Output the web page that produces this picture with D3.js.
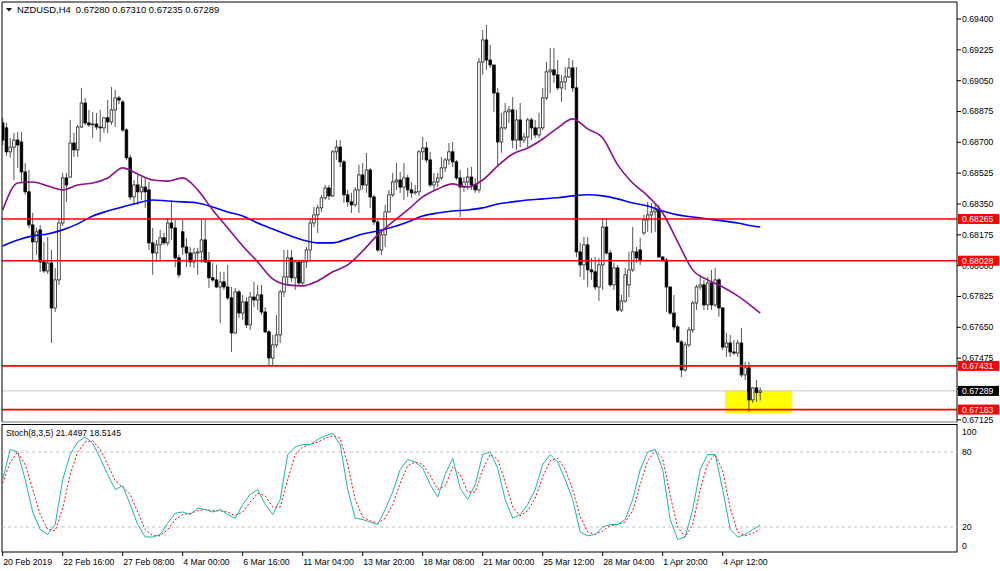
<!DOCTYPE html>
<html><head><meta charset="utf-8">
<script src="https://cdn.jsdelivr.net/npm/d3@7"></script>
<style>body{margin:0;background:#fff}svg{display:block}text{font-family:"Liberation Sans",Arial,sans-serif;font-size:8.7px;white-space:pre}</style>
</head><body><svg id="c" width="1000" height="571"></svg>
<script>
const title = "NZDUSD,H4  0.67280 0.67310 0.67235 0.67289";
const stochTitle = "Stoch(8,3,5) 21.4497 18.5145";
const opens = [0.68810,0.68782,0.68646,0.68673,0.68713,0.68702,0.68532,0.68419,0.68231,0.68135,0.68203,0.68021,0.67970,0.68015,0.67760,0.67919,0.68242,0.68498,0.68503,0.68696,0.68657,0.68787,0.68923,0.68810,0.68799,0.68804,0.68787,0.68782,0.68839,0.68816,0.68884,0.68952,0.68929,0.68770,0.68612,0.68390,0.68458,0.68419,0.68446,0.68430,0.68129,0.68072,0.68118,0.68158,0.68129,0.68242,0.68214,0.68044,0.68192,0.68106,0.68072,0.68021,0.68072,0.68078,0.68146,0.68021,0.67931,0.67919,0.67879,0.67908,0.67879,0.67817,0.67618,0.67851,0.67731,0.67794,0.67664,0.67822,0.67805,0.67834,0.67737,0.67624,0.67476,0.67550,0.67607,0.67851,0.67936,0.68044,0.67931,0.68021,0.67902,0.68021,0.68089,0.68242,0.68288,0.68328,0.68385,0.68441,0.68396,0.68646,0.68673,0.68589,0.68402,0.68362,0.68345,0.68430,0.68515,0.68458,0.68543,0.68390,0.68248,0.68089,0.68175,0.68305,0.68402,0.68475,0.68486,0.68446,0.68498,0.68430,0.68413,0.68419,0.68646,0.68668,0.68600,0.68458,0.68475,0.68498,0.68555,0.68600,0.68646,0.68589,0.68498,0.68446,0.68475,0.68503,0.68458,0.68430,0.69156,0.69281,0.69167,0.69139,0.68980,0.68702,0.68782,0.68873,0.68884,0.68713,0.68827,0.68713,0.68730,0.68827,0.68782,0.68742,0.68782,0.68952,0.69100,0.69111,0.69083,0.69009,0.69043,0.69071,0.69122,0.69009,0.68078,0.68004,0.68118,0.67976,0.67965,0.67879,0.68004,0.68219,0.68072,0.67891,0.67987,0.67748,0.67799,0.67891,0.67976,0.68078,0.68089,0.68186,0.68259,0.68288,0.68305,0.68316,0.68049,0.68032,0.67879,0.67731,0.67652,0.67567,0.67408,0.67550,0.67635,0.67788,0.67879,0.67891,0.67777,0.67902,0.67777,0.67919,0.67760,0.67538,0.67561,0.67510,0.67504,0.67561,0.67380,0.67420,0.67238,0.67306,0.67280];
const highs = [0.68839,0.68810,0.68725,0.68753,0.68759,0.68759,0.68583,0.68543,0.68299,0.68214,0.68231,0.68135,0.68163,0.68089,0.67987,0.68271,0.68526,0.68526,0.68827,0.68753,0.68799,0.69009,0.68952,0.68884,0.68873,0.68867,0.68884,0.68844,0.68940,0.69014,0.68997,0.68963,0.68940,0.68782,0.68629,0.68486,0.68515,0.68503,0.68503,0.68475,0.68214,0.68146,0.68203,0.68186,0.68271,0.68373,0.68259,0.68061,0.68259,0.68158,0.68106,0.68101,0.68101,0.68259,0.68259,0.68078,0.68015,0.68004,0.67965,0.67965,0.68004,0.67879,0.67874,0.67862,0.67834,0.67822,0.67851,0.67908,0.67891,0.67891,0.67765,0.67635,0.67607,0.67720,0.67862,0.68089,0.68089,0.68089,0.68032,0.68021,0.68032,0.68106,0.68271,0.68333,0.68345,0.68402,0.68458,0.68458,0.68657,0.68713,0.68713,0.68600,0.68430,0.68413,0.68446,0.68572,0.68583,0.68640,0.68555,0.68402,0.68259,0.68203,0.68345,0.68430,0.68526,0.68583,0.68532,0.68583,0.68515,0.68475,0.68458,0.68657,0.68730,0.68702,0.68646,0.68526,0.68526,0.68617,0.68612,0.68696,0.68702,0.68600,0.68543,0.68503,0.68555,0.68560,0.68498,0.69179,0.69338,0.69366,0.69253,0.69139,0.69009,0.68867,0.68923,0.68906,0.68957,0.68884,0.68923,0.68753,0.68839,0.68839,0.68827,0.68867,0.69009,0.69156,0.69236,0.69236,0.69167,0.69083,0.69127,0.69179,0.69167,0.69127,0.68129,0.68163,0.68163,0.68044,0.68049,0.68044,0.68271,0.68271,0.68089,0.68015,0.68004,0.67834,0.67987,0.68078,0.68219,0.68106,0.68158,0.68288,0.68362,0.68356,0.68356,0.68345,0.68055,0.68044,0.67879,0.67834,0.67664,0.67578,0.67567,0.67652,0.67799,0.67891,0.67948,0.67919,0.67936,0.67976,0.67987,0.67931,0.67765,0.67618,0.67607,0.67578,0.67578,0.67647,0.67454,0.67454,0.67311,0.67351,0.67310];
const lows = [0.68685,0.68623,0.68612,0.68486,0.68555,0.68475,0.68402,0.68214,0.68032,0.68061,0.67965,0.67959,0.67953,0.67561,0.67737,0.67891,0.68225,0.68362,0.68498,0.68617,0.68617,0.68782,0.68799,0.68787,0.68725,0.68770,0.68702,0.68753,0.68753,0.68799,0.68787,0.68917,0.68759,0.68600,0.68373,0.68345,0.68345,0.68373,0.68328,0.68089,0.67948,0.68021,0.68021,0.68118,0.68112,0.68146,0.67992,0.67931,0.68061,0.67992,0.67992,0.67987,0.67948,0.68015,0.68015,0.67874,0.67908,0.67874,0.67675,0.67862,0.67805,0.67510,0.67612,0.67703,0.67692,0.67647,0.67635,0.67765,0.67748,0.67720,0.67618,0.67431,0.67431,0.67533,0.67561,0.67822,0.67891,0.67908,0.67862,0.67891,0.67891,0.67987,0.68021,0.68219,0.68186,0.68305,0.68373,0.68373,0.68390,0.68600,0.68560,0.68356,0.68333,0.68299,0.68333,0.68299,0.68430,0.68413,0.68328,0.68231,0.68078,0.68061,0.68106,0.68299,0.68390,0.68430,0.68413,0.68373,0.68390,0.68385,0.68402,0.68396,0.68600,0.68583,0.68446,0.68430,0.68446,0.68486,0.68532,0.68572,0.68560,0.68486,0.68276,0.68419,0.68430,0.68430,0.68413,0.68413,0.69083,0.69111,0.69122,0.68873,0.68560,0.68640,0.68770,0.68810,0.68668,0.68657,0.68673,0.68696,0.68673,0.68713,0.68725,0.68725,0.68770,0.68940,0.68980,0.69037,0.68997,0.68929,0.68997,0.69066,0.68986,0.68049,0.67936,0.67919,0.67879,0.67919,0.67862,0.67799,0.67862,0.68061,0.67879,0.67862,0.67737,0.67737,0.67788,0.67822,0.67965,0.68015,0.68004,0.68175,0.68192,0.68186,0.68192,0.68044,0.68021,0.67737,0.67720,0.67635,0.67561,0.67368,0.67397,0.67538,0.67618,0.67748,0.67862,0.67748,0.67748,0.67748,0.67765,0.67709,0.67521,0.67482,0.67482,0.67493,0.67482,0.67368,0.67351,0.67170,0.67221,0.67227,0.67235];
const closes = [0.68713,0.68646,0.68673,0.68713,0.68685,0.68532,0.68419,0.68231,0.68135,0.68192,0.68021,0.67970,0.68015,0.67760,0.67919,0.68242,0.68498,0.68458,0.68696,0.68657,0.68787,0.68923,0.68810,0.68799,0.68804,0.68787,0.68782,0.68839,0.68816,0.68884,0.68952,0.68940,0.68770,0.68612,0.68390,0.68458,0.68419,0.68446,0.68419,0.68129,0.68072,0.68118,0.68158,0.68129,0.68242,0.68214,0.68044,0.67948,0.68106,0.68072,0.68021,0.68072,0.68078,0.68146,0.68021,0.67931,0.67919,0.67879,0.67908,0.67879,0.67817,0.67618,0.67851,0.67731,0.67794,0.67664,0.67822,0.67805,0.67834,0.67737,0.67624,0.67476,0.67550,0.67607,0.67851,0.67936,0.68044,0.67931,0.68021,0.67902,0.68021,0.68089,0.68242,0.68288,0.68328,0.68385,0.68441,0.68396,0.68646,0.68673,0.68589,0.68402,0.68362,0.68345,0.68430,0.68515,0.68458,0.68543,0.68390,0.68248,0.68089,0.68175,0.68305,0.68402,0.68475,0.68486,0.68446,0.68498,0.68430,0.68413,0.68419,0.68646,0.68668,0.68600,0.68458,0.68475,0.68498,0.68555,0.68600,0.68646,0.68589,0.68498,0.68446,0.68475,0.68503,0.68458,0.68430,0.69156,0.69281,0.69167,0.69139,0.68980,0.68702,0.68782,0.68873,0.68884,0.68713,0.68827,0.68713,0.68730,0.68827,0.68782,0.68742,0.68782,0.68952,0.69100,0.69111,0.69083,0.69009,0.69043,0.69071,0.69122,0.69009,0.68078,0.68004,0.68118,0.67976,0.67965,0.67879,0.68004,0.68219,0.68072,0.67891,0.67987,0.67748,0.67799,0.67948,0.67976,0.68078,0.68044,0.68032,0.68259,0.68288,0.68305,0.68316,0.68049,0.68032,0.67879,0.67731,0.67652,0.67567,0.67408,0.67550,0.67635,0.67788,0.67879,0.67891,0.67777,0.67902,0.67777,0.67919,0.67760,0.67538,0.67561,0.67510,0.67504,0.67561,0.67380,0.67420,0.67238,0.67306,0.67280,0.67289];

const maIndex = [0,4,8,12,16,20,24,28,32,36,40,44,48,52,56,60,64,68,72,76,80,84,88,92,96,100,104,108,112,116,120,124,128,132,136,140,144,148,152,156,160,164,168,172,176,180,184,188,192,196,200,202];
const maPurple = [0.68316,0.68469,0.68475,0.68452,0.68430,0.68458,0.68469,0.68498,0.68555,0.68520,0.68486,0.68480,0.68498,0.68430,0.68316,0.68214,0.68112,0.68021,0.67925,0.67891,0.67885,0.67913,0.67965,0.68004,0.68083,0.68175,0.68248,0.68316,0.68390,0.68435,0.68464,0.68446,0.68486,0.68566,0.68634,0.68668,0.68719,0.68782,0.68833,0.68776,0.68725,0.68572,0.68469,0.68396,0.68299,0.68135,0.67976,0.67919,0.67879,0.67828,0.67765,0.67731];
const maBlue = [0.68112,0.68146,0.68169,0.68180,0.68203,0.68237,0.68282,0.68310,0.68333,0.68356,0.68373,0.68367,0.68362,0.68356,0.68333,0.68305,0.68282,0.68242,0.68208,0.68175,0.68146,0.68129,0.68129,0.68152,0.68180,0.68197,0.68219,0.68248,0.68282,0.68299,0.68310,0.68316,0.68328,0.68350,0.68362,0.68373,0.68379,0.68385,0.68396,0.68402,0.68396,0.68379,0.68356,0.68339,0.68310,0.68288,0.68276,0.68265,0.68254,0.68242,0.68225,0.68219];

const stochIndex = d3.range(0, 203, 2);
const stochMain = [58,82,80,58,32,18,14,22,58,78,88,92,87,75,62,50,53,38,22,12,12,14,23,31,32,30,35,34,32,34,30,27,38,46,50,38,30,42,78,84,86,86,90,93,95,86,50,27,26,24,22,34,48,66,74,72,67,54,44,62,75,51,42,54,78,80,67,42,27,30,38,50,70,78,72,58,42,16,13,14,20,22,22,26,42,66,80,82,66,26,10,12,34,66,78,78,50,18,12,14,18,21.45];
const stochSignal = [55,72,80,70,50,30,18,17,35,62,80,88,89,82,70,57,52,46,32,18,13,13,18,26,30,31,33,34,33,33,32,29,32,40,47,45,36,36,58,78,84,86,88,91,93,91,70,42,28,25,23,27,38,55,69,72,70,61,50,53,68,62,48,48,66,78,74,56,36,29,33,43,60,73,75,66,50,28,16,14,17,21,22,24,33,54,73,81,75,45,20,12,22,50,71,78,65,35,16,13,15,18.51];

const levelPrices = [0.68265, 0.68028, 0.67431, 0.67183];
const bidPrice = 0.67289;
const priceTicks = [0.69400,0.69225,0.69050,0.68875,0.68700,0.68525,0.68350,0.68175,0.68000,0.67825,0.67650,0.67475,0.67300,0.67125];
const stochTicks = [100, 80, 20, 0];
const stochLevels = [80, 20];
const timeLabels = ["20 Feb 2019","22 Feb 16:00","27 Feb 08:00","4 Mar 00:00","6 Mar 16:00","11 Mar 04:00","13 Mar 20:00","18 Mar 08:00","21 Mar 00:00","25 Mar 12:00","28 Mar 04:00","1 Apr 20:00","4 Apr 12:00"];
const timeLabelIndex = [0,16,32,48,64,80,96,112,128,144,160,176,192];
const zoneBox = {from: 192.6, to: 210.5, top: 0.67290, bottom: 0.67163};

const svg = d3.select("#c");
const L = 2, R = 957, T = 2, MB = 422, ST = 424.5, SB = 552;
const N = closes.length;
const x = d3.scaleLinear().domain([0, 202]).range([2.7, 760.2]);
const y = d3.scaleLinear().domain([0.67125, 0.69400]).range([419.8, 19]);
const ys = d3.scaleLinear().domain([0, 100]).range([552, 427]);

svg.append("rect").attr("width",1000).attr("height",571).attr("fill","#fff");
const defs = svg.append("defs");
defs.append("clipPath").attr("id","cm").append("rect").attr("x",L).attr("y",T).attr("width",R-L).attr("height",MB-T);
defs.append("clipPath").attr("id","cs").append("rect").attr("x",L).attr("y",ST).attr("width",R-L).attr("height",SB-ST);

const gm = svg.append("g").attr("clip-path","url(#cm)");
gm.append("rect").attr("x",x(zoneBox.from)).attr("width",x(zoneBox.to)-x(zoneBox.from))
  .attr("y",y(zoneBox.top)).attr("height",y(zoneBox.bottom)-y(zoneBox.top)).attr("fill","#ffff00");
gm.append("line").attr("x1",L).attr("x2",R).attr("y1",y(bidPrice)).attr("y2",y(bidPrice)).attr("stroke","#c8c8c8").attr("stroke-width",1);

const idx = d3.range(N);
const cg = gm.append("g");
cg.selectAll("line.w").data(idx).join("line").attr("class","w")
  .attr("x1",i=>x(i)).attr("x2",i=>x(i)).attr("y1",i=>y(highs[i])).attr("y2",i=>y(lows[i]))
  .attr("stroke","#555").attr("stroke-width",1);
const bw = 2.6;
cg.selectAll("rect.b").data(idx).join("rect").attr("class","b")
  .attr("x",i=>x(i)-bw/2).attr("width",bw)
  .attr("y",i=>y(Math.max(opens[i],closes[i])))
  .attr("height",i=>Math.max(0.8, Math.abs(y(opens[i])-y(closes[i]))))
  .attr("fill",i=>closes[i]>=opens[i]?"#fff":"#000")
  .attr("stroke",i=>closes[i]>=opens[i]?"#222":"#000").attr("stroke-width",0.8);

const maLine = d3.line().x((d,k)=>x(maIndex[k])).y(d=>y(d)).curve(d3.curveMonotoneX);
gm.append("path").attr("d",maLine(maBlue)).attr("fill","none").attr("stroke","#0000ff").attr("stroke-width",1.6);
gm.append("path").attr("d",maLine(maPurple)).attr("fill","none").attr("stroke","#8b108b").attr("stroke-width",1.6);

gm.selectAll("line.lv").data(levelPrices).join("line").attr("class","lv")
  .attr("x1",L).attr("x2",R).attr("y1",d=>y(d)).attr("y2",d=>y(d))
  .attr("stroke","#ff0000").attr("stroke-width",1.6);

const frame = svg.append("g").attr("fill","none");
frame.append("path").attr("d",`M${L},${MB}V${T}H${R}V${MB}`).attr("stroke","#000").attr("stroke-width",1);
frame.append("line").attr("x1",L).attr("x2",R).attr("y1",MB).attr("y2",MB).attr("stroke","#777").attr("stroke-width",1);
frame.append("line").attr("x1",L).attr("x2",R).attr("y1",ST).attr("y2",ST).attr("stroke","#555").attr("stroke-width",1);
frame.append("rect").attr("x",L).attr("y",ST).attr("width",R-L).attr("height",SB-ST).attr("stroke","#000").attr("stroke-width",1);

const pa = svg.append("g");
pa.selectAll("line").data(priceTicks).join("line").attr("x1",R).attr("x2",R+4)
  .attr("y1",d=>y(d)).attr("y2",d=>y(d)).attr("stroke","#000");
const visibleTicks = priceTicks.filter(d => Math.abs(y(d) - y(bidPrice)) > 5);
pa.selectAll("text").data(visibleTicks).join("text").attr("x",R+5).attr("y",d=>y(d)+3)
  .attr("fill","#000").text(d=>d.toFixed(5));

const ll = svg.append("g");
const lab = ll.selectAll("g").data(levelPrices.map(p=>({p, c:"#ff0000"})).concat([{p:bidPrice, c:"#000"}])).join("g");
lab.append("rect").attr("x",R+1).attr("width",41).attr("y",d=>y(d.p)-5).attr("height",10).attr("fill",d=>d.c);
lab.append("text").attr("x",R+5).attr("y",d=>y(d.p)+3.2).attr("fill","#fff").text(d=>d.p.toFixed(5));

svg.append("path").attr("d","M6,8L12,8L9,11.5Z").attr("fill","#000");
svg.append("text").attr("x",17).attr("y",12.5).attr("fill","#000").attr("xml:space","preserve")
  .style("font-size","9.4px").text(title);

const gs = svg.append("g").attr("clip-path","url(#cs)");
gs.selectAll("line.lvl").data(stochLevels).join("line").attr("class","lvl")
  .attr("x1",L).attr("x2",R).attr("y1",d=>ys(d)).attr("y2",d=>ys(d))
  .attr("stroke","#c0c0c0").attr("stroke-dasharray","3,3");
const sLine = d3.line().x((d,k)=>x(stochIndex[k])).y(d=>ys(d));
gs.append("path").attr("d",sLine(stochSignal)).attr("fill","none").attr("stroke","#ff0000").attr("stroke-width",1).attr("stroke-dasharray","2,2");
gs.append("path").attr("d",sLine(stochMain)).attr("fill","none").attr("stroke","#20b2aa").attr("stroke-width",1);
svg.append("text").attr("x",6).attr("y",436).attr("fill","#000").text(stochTitle);
svg.selectAll("text.st").data(stochTicks).join("text").attr("class","st")
  .attr("x",R+5).attr("y",d=>Math.min(SB-3, Math.max(ST+10, ys(d)+3))).attr("fill","#000").text(d=>d);

const ta = svg.append("g");
ta.selectAll("line").data(timeLabelIndex).join("line").attr("x1",i=>x(i)).attr("x2",i=>x(i))
  .attr("y1",SB).attr("y2",SB+4).attr("stroke","#000");
ta.selectAll("text").data(timeLabels).join("text").attr("x",(d,k)=>x(timeLabelIndex[k])+0.5).attr("y",565)
  .attr("fill","#000").text(d=>d);
</script></body></html>
